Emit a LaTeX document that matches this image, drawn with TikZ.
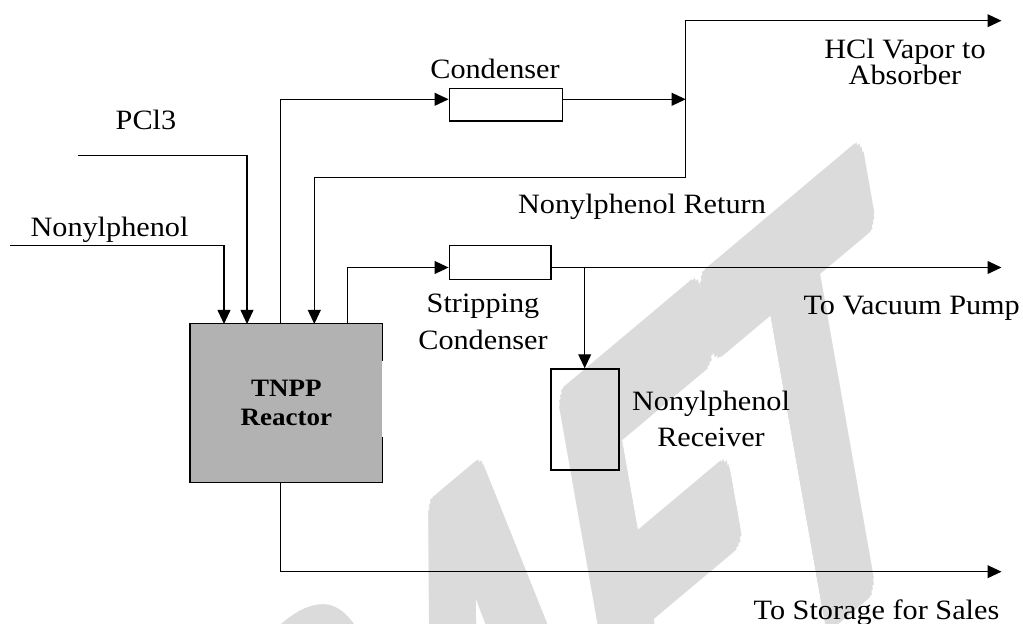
\documentclass[tikz,border=0pt]{standalone}
\usepackage{fontspec}
\setmainfont{Liberation Serif}[FakeStretch=1.08]
\newfontfamily\wmfont{Liberation Sans}
\usetikzlibrary{arrows.meta}
\definecolor{wmgray}{gray}{0.86}

\begin{document}
\begin{tikzpicture}[x=0.5pt,y=-0.5pt]
\tikzstyle{pipe}=[line width=0.7pt]
\tikzstyle{pipearrow}=[line width=0.7pt,-{Triangle[length=7pt,width=6.4pt]}]
\tikzstyle{unit}=[rectangle,draw,line width=0.7pt,inner sep=0pt]
\tikzstyle{lbl}=[font=\fontsize{14}{18.35}\selectfont,align=center,inner sep=0pt]
\tikzstyle{wmark}=[text=wmgray,font=\wmfont\bfseries\fontsize{100}{100}\selectfont,inner sep=0pt,anchor=base west,transform shape]
\useasboundingbox (0,0) rectangle (1023,624);
\begin{scope}
\clip (0,0) rectangle (1023,624);
\begin{scope}[shift={(64.9,1258.1)},cm={1.2716,1.0674,-0.4872,2.758,(0,0)}]
\foreach \a in {0,22.5,...,337.5}
  \node[wmark] at (\a:5) {DRAFT};
\node[wmark] (draft) at (0,0) {DRAFT};
\end{scope}
\end{scope}
\node[unit,draw=none,fill=black!30,minimum width=95.65pt,minimum height=78.85pt,font=\fontsize{12.5}{14.7}\selectfont\bfseries,align=center] (reactor) at (286.35,402.85) {TNPP\\Reactor};
\draw[pipe] ([yshift=21pt]reactor.east) -- (reactor.north east) -- (reactor.north west) -- (reactor.south west) -- (reactor.south east) -- ([yshift=-17pt]reactor.east);
\node[unit,minimum width=56.5pt,minimum height=16.35pt] (cond) at (505.8,104.65) {};
\node[unit,minimum width=50.85pt,minimum height=16.9pt] (strip) at (500.15,262.4) {};
\node[unit,minimum width=34.1pt,minimum height=50.5pt] (recv) at (584.9,419.5) {};
\coordinate (pcl) at (77.7,155.7);
\coordinate (np) at (10,245.7);
\coordinate (in1) at (224,324);
\coordinate (in2) at (247,324);
\coordinate (in3) at (314.3,324);
\coordinate (cfeed) at (280.7,99.3);
\coordinate (ret) at (685.7,177.3);
\coordinate (sfeed) at (347.7,267.5);
\coordinate (tee) at (584.7,267.5);
\coordinate (prod) at (280.7,571.7);
\coordinate (hclend) at (1001.5,20.7);
\coordinate (vacend) at (1001.5,267.5);
\draw[pipearrow] (np) -| (in1);
\draw[pipearrow] (pcl) -| (in2);
\draw[pipearrow] (reactor.north -| cfeed) -- (cfeed) -- (cfeed -| cond.west);
\draw[pipearrow] (cfeed -| cond.east) -- (cfeed -| ret);
\draw[pipearrow] (ret) |- (hclend);
\draw[pipearrow] (ret) -| (in3);
\draw[pipearrow] (reactor.north -| sfeed) -- (sfeed) -- (sfeed -| strip.west);
\draw[pipearrow] (sfeed -| strip.east) -- (vacend);
\draw[pipearrow] (tee) -- (recv.north -| tee);
\draw[pipearrow] (reactor.south -| prod) -- (prod) -- (prod -| vacend);
\node[lbl,anchor=base] (lpcl) at (146,129.3) {PCl3};
\node[lbl,anchor=base] (lnp) at (109.5,236.7) {Nonylphenol};
\node[lbl,anchor=base] (lcond) at (495,78.8) {Condenser};
\node[lbl] (lhcl) at (905,61.75) {HCl Vapor to\\[-5.35pt]Absorber};
\node[lbl,anchor=base] (lret) at (642,214) {Nonylphenol Return};
\node[lbl] (lstrip) at (483,322.1) {Stripping\\Condenser};
\node[lbl] (lrecv) at (711,418.8) {Nonylphenol\\Receiver};
\node[lbl,anchor=base] (lvac) at (911.7,315) {To Vacuum Pump};
\node[lbl,anchor=base] (lstor) at (876.5,620) {To Storage for Sales};
\end{tikzpicture}
\end{document}
